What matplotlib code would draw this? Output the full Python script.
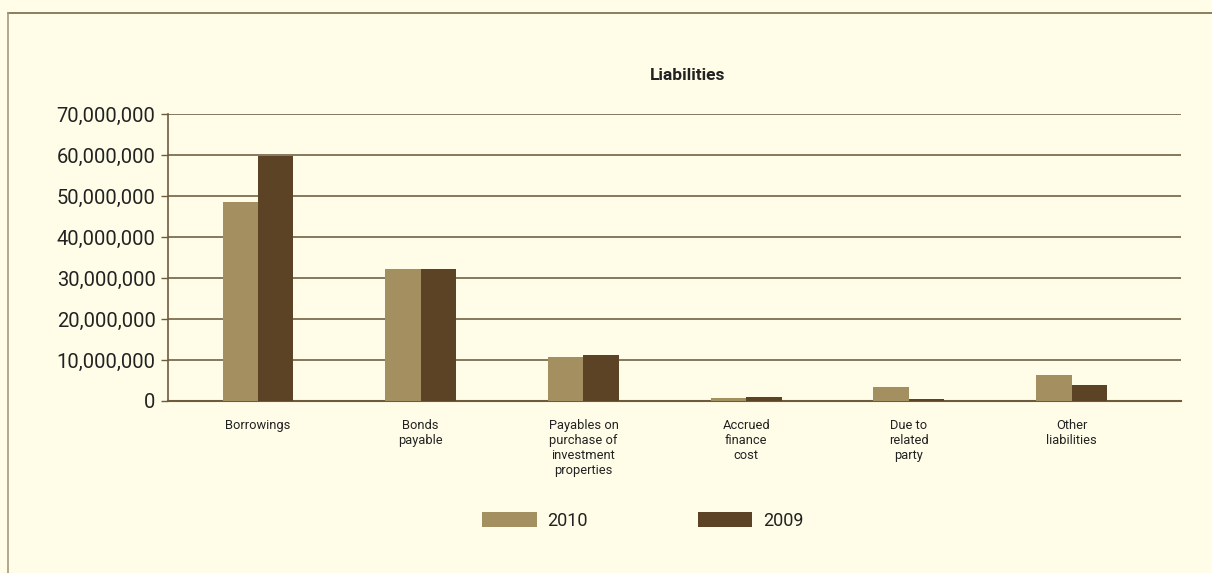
import matplotlib
matplotlib.use("Agg")
import matplotlib.pyplot as plt
from matplotlib.lines import Line2D
from matplotlib.ticker import FuncFormatter
import numpy as np

categories = ["Borrowings", "Bonds\npayable", "Payables on\npurchase of\ninvestment\nproperties",
              "Accrued\nfinance\ncost", "Due to\nrelated\nparty", "Other\nliabilities"]
values_2010 = [48500000, 32200000, 10800000, 800000, 3300000, 6400000]
values_2009 = [59800000, 32200000, 11300000, 1000000, 500000, 3800000]
series_labels = ["2010", "2009"]
yticks = [0, 10000000, 20000000, 30000000, 40000000, 50000000, 60000000, 70000000]

bg = "#FFFDE8"
c2010 = "#A48F60"
c2009 = "#5C4326"
axis_col = "#6E5A3C"
grid_col = "#7D6D52"
text_col = "#222222"

plt.rcParams['font.family'] = ['Roboto', 'DejaVu Sans']

fig = plt.figure(figsize=(12.12, 5.73), dpi=100, facecolor=bg)
ax = fig.add_axes([168/1212, 1-401/573, (1181-168)/1212, (401-114)/573])
ax.set_facecolor(bg)

x = np.arange(len(categories))
w = 0.218
ax.bar(x - w/2, values_2010, width=w, color=c2010, label=series_labels[0], zorder=3)
ax.bar(x + w/2, values_2009, width=w, color=c2009, label=series_labels[1], zorder=3)

ax.set_xlim(-0.553, 5.672)
ax.set_ylim(0, 70000000)
ax.set_yticks(yticks)
ax.yaxis.set_major_formatter(FuncFormatter(lambda v, p: f"{int(v):,}"))
ax.tick_params(axis='y', direction='out', length=5, width=1, color=axis_col,
               labelsize=14.5, labelcolor=text_col, pad=4)
ax.set_xticks(x)
ax.set_xticklabels(categories, fontsize=9.3, color=text_col, linespacing=1.2, va='top')
ax.tick_params(axis='x', length=0, pad=13)

ax.grid(axis='y', color=grid_col, linewidth=1.3, zorder=1)
ax.set_axisbelow(True)
for s in ['top', 'right']:
    ax.spines[s].set_visible(False)
ax.spines['left'].set_color(axis_col)
ax.spines['bottom'].set_color(axis_col)
ax.spines['left'].set_linewidth(1.2)
ax.spines['bottom'].set_linewidth(1.5)

fig.text(688/1212, 1-75/573, "Liabilities", ha='center', va='center',
         fontsize=12.5, fontweight='bold', color=text_col)

# outer frame (top and left edges visible)
fig.add_artist(Line2D([8/1212, 1.0], [1-13/573, 1-13/573], transform=fig.transFigure,
                      color="#7A6848", linewidth=1.2))
fig.add_artist(Line2D([8/1212, 8/1212], [0.0, 1-13/573], transform=fig.transFigure,
                      color="#A8987A", linewidth=1.2))

leg = fig.legend(loc='center', bbox_to_anchor=(643/1212, 1-521/573), ncol=2,
                 frameon=False, fontsize=13, handlelength=3.0, handleheight=0.9,
                 handletextpad=0.6, columnspacing=6.1, labelcolor=text_col)

fig.savefig("out.png", dpi=100, facecolor=bg)
